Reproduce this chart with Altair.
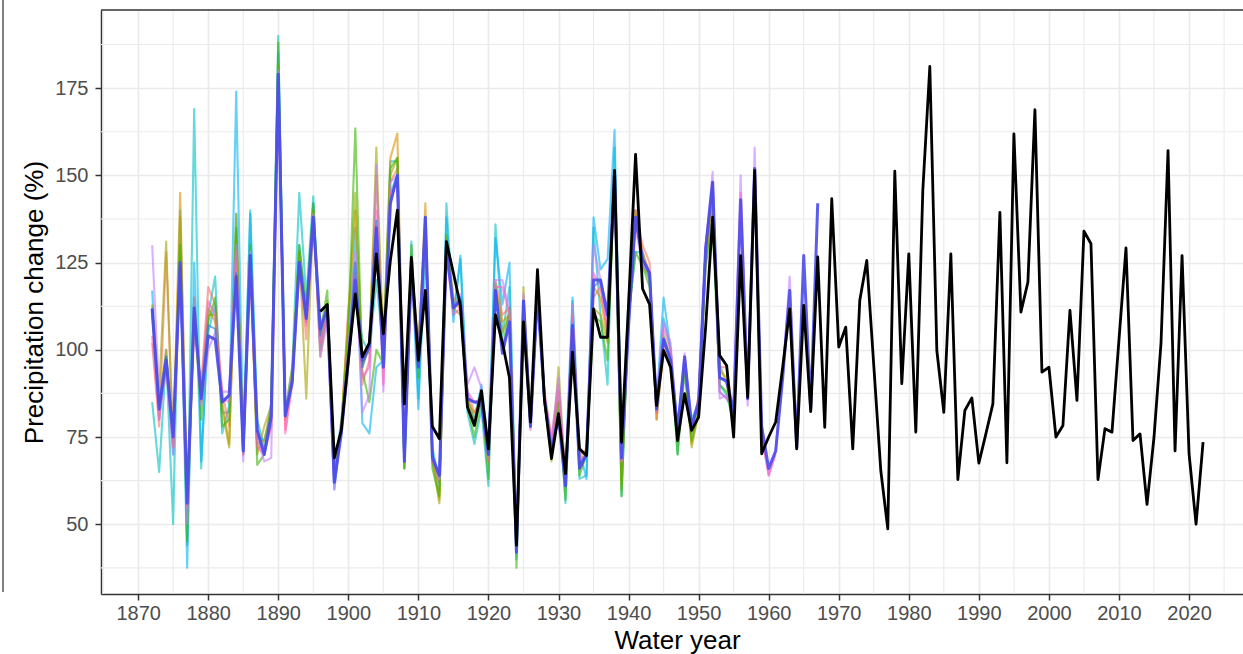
import altair as alt
import pandas as pd

# ---------------- data ----------------
x_major = list(range(1870, 2021, 10))
x_minor = list(range(1865, 2026, 10))
y_major = [50, 75, 100, 125, 150, 175]
y_minor = [37.5, 62.5, 87.5, 112.5, 137.5, 162.5, 187.5]

ens_start = 1872

teal = [85, 65, 98, 50, 140, 44, 169, 66, 110, 121,
        76, 84, 139, 70, 140, 80, 72, 85, 190, 82,
        95, 145, 115, 144, 100, 113, 65, 80, 100, 118,
        103, 99, 120, 100, 154, 154, 66, 131, 86, 137,
        70, 60, 142, 110, 126, 82, 73, 83, 61, 136,
        104, 118, 40, 113, 80, 118, 86, 70, 88, 56,
        114, 63, 64, 135, 110, 90, 158, 58, 110, 128,
        128, 120, 84, 109, 100, 70, 95, 76, 83, 125,
        142, 90, 87, 84]

cyan = [117, 80, 100, 70, 128, 37.5, 125, 68, 105, 113,
        82, 82, 174, 74, 139, 75, 74, 82, 185, 82,
        90, 130, 110, 142, 100, 110, 60, 78, 96, 135,
        79, 76, 95, 97, 145, 150, 70, 127, 83, 128,
        72, 62, 138, 108, 127, 86, 80, 90, 72, 132,
        113, 125, 44, 110, 80, 115, 85, 72, 80, 66,
        115, 71, 63, 138, 123, 126, 163, 72, 115, 140,
        125, 120, 85, 115, 100, 78, 97, 80, 85, 128,
        145, 88, 86, 82]

red = [102, 78, 128, 72, 125, 56, 105, 90, 118, 113,
       88, 78, 125, 72, 125, 72, 72, 78, 180, 77,
       92, 125, 103, 138, 102, 112, 64, 78, 112, 125,
       90, 97, 135, 95, 148, 152, 70, 122, 100, 136,
       68, 62, 130, 113, 112, 88, 82, 85, 68, 120,
       110, 112, 45, 112, 78, 115, 88, 75, 90, 62,
       110, 70, 71, 115, 118, 105, 150, 70, 108, 140,
       130, 125, 80, 102, 97, 76, 95, 76, 87, 128,
       145, 95, 95, 80]

orange = [110, 85, 100, 73, 145, 57, 110, 88, 112, 108,
          85, 73, 133, 73, 127, 73, 74, 83, 180, 80,
          92, 128, 108, 140, 98, 110, 64, 78, 108, 140,
          95, 102, 150, 100, 155, 162, 70, 125, 98, 142,
          70, 57, 132, 115, 112, 85, 82, 86, 68, 118,
          108, 110, 44, 112, 80, 118, 85, 70, 85, 64,
          108, 67, 72, 118, 115, 103, 150, 62, 110, 140,
          128, 122, 80, 100, 95, 76, 98, 73, 83, 125,
          143, 94, 92, 80]

olive = [113, 88, 131, 72, 138, 58, 108, 85, 110, 110,
         83, 72, 139, 72, 125, 70, 78, 84, 182, 82,
         95, 128, 86, 140, 104, 114, 64, 77, 110, 145,
         96, 100, 158, 100, 150, 155, 66, 125, 100, 138,
         68, 56, 131, 112, 110, 86, 80, 85, 72, 118,
         105, 110, 42, 118, 79, 116, 86, 68, 95, 62,
         108, 66, 70, 112, 110, 102, 148, 60, 112, 138,
         124, 121, 82, 100, 96, 74, 96, 72, 82, 126,
         140, 96, 90, 80]

green = [112, 85, 98, 74, 130, 45, 115, 80, 108, 115,
         78, 80, 135, 70, 130, 67, 70, 83, 188, 82,
         92, 130, 112, 142, 105, 117, 64, 78, 105, 163.5,
         94, 85, 100, 96, 152, 155, 66, 130, 92, 135,
         66, 58, 133, 112, 115, 84, 75, 86, 63, 119,
         100, 112, 37.5, 112, 78, 117, 85, 70, 85, 57,
         110, 64, 70, 110, 108, 97, 150, 58, 110, 128,
         124, 118, 83, 104, 98, 70, 94, 74, 82, 124,
         136, 90, 88, 78]

purple = [130, 87, 97, 70, 125, 50, 115, 84, 100, 105,
          88, 88, 130, 68, 128, 75, 68, 69, 180, 82,
          92, 125, 108, 139, 98, 108, 60, 78, 98, 128,
          82, 87, 153, 88, 148, 150, 68, 125, 95, 137,
          70, 63, 128, 112, 116, 90, 95, 89, 72, 120,
          120, 111, 43, 116, 80, 117, 87, 74, 92, 63,
          113, 68, 70, 130, 120, 108, 151, 68, 112, 135,
          124, 122, 85, 108, 102, 76, 99, 78, 86, 130,
          151, 86, 87, 84, 150, 84, 158, 76, 64, 71,
          93, 121, 72]

pink = [104, 80, 95, 72, 123, 55, 110, 88, 114, 110,
        86, 85, 128, 70, 123, 72, 70, 78, 177, 76,
        90, 122, 107, 137, 102, 110, 63, 76, 100, 122,
        92, 95, 140, 90, 145, 148, 70, 122, 96, 136,
        68, 64, 128, 110, 112, 88, 85, 86, 68, 118,
        118, 110, 44, 112, 77, 116, 87, 73, 88, 63,
        110, 68, 70, 122, 118, 106, 150, 68, 110, 137,
        126, 122, 82, 106, 100, 76, 97, 77, 86, 129,
        148, 88, 86, 84, 145, 86, 150, 75, 64, 70]

azure = [112, 84, 98, 76, 124, 56, 110, 87, 107, 106,
         85, 87, 122, 71, 127, 77, 70, 80, 179, 81,
         91, 125, 110, 138, 104, 113, 62, 77, 98, 125,
         95, 101, 137, 96, 142, 150, 68, 125, 96, 138,
         70, 64, 130, 112, 115, 86, 85, 84, 70, 117,
         100, 108, 42, 114, 78, 116, 86, 71, 82, 61,
         107, 67, 70, 118, 120, 110, 151, 69, 107, 138,
         126, 122, 83, 103, 97, 77, 96, 78, 85, 129,
         148, 92, 91, 82]

main_blue = [111.7, 83, 97, 75, 125, 56, 112, 86, 104, 103,
             85, 87, 121, 71, 127, 77, 70, 81, 179, 81,
             91, 125, 109, 138, 106, 112, 62, 76, 97, 120,
             97, 101, 135, 95, 142, 150, 68, 124, 95, 138,
             69, 64, 129, 112, 114, 86, 85, 85, 70, 117,
             99, 108, 42, 114, 78, 116, 86, 71, 81, 61,
             107, 66, 70, 120, 120, 110, 151, 69, 107, 138,
             126, 122, 83, 103, 97, 77, 98, 78, 85, 129,
             148, 92, 91, 82, 143, 86, 152, 78, 66, 71,
             92, 117, 72, 127, 83, 142]

obs_start = 1896
observed = [111, 113, 69, 77, 97, 116, 98, 102, 127.5, 104.6,
            125.6, 140, 84.5, 126.5, 97, 117, 78, 74.5, 131, 122,
            112.7, 83.6, 78.3, 88.3, 71.6, 110, 102, 92, 44, 108,
            79.3, 123, 85.5, 68.8, 81.7, 64.5, 99.3, 71.6, 69.7, 111.7,
            103.6, 103.6, 151.4, 73.5, 113, 156, 117.5, 113, 84, 99.8,
            95, 74, 87.4, 76.9, 80.7, 106.5, 138, 98.4, 95.5, 75,
            127, 86.4, 151.4, 70.2, 75, 79.3, 95, 111.7, 71.6, 112.7,
            82.3, 126.6, 77.8, 143.3, 100.8, 106.5, 71.6, 114.1, 125.6, 95.5,
            65.4, 48.7, 151.2, 90.3, 127.5, 76.4, 145.7, 181.2, 99.8, 82.1,
            127.5, 62.8, 82.6, 86.2, 67.5, 75.9, 84.5, 139.4, 67.6, 161.9,
            110.8, 119.4, 168.8, 93.6, 95, 75, 78.3, 111.3, 85.5, 134,
            130.4, 62.8, 77.4, 76.4, 103, 129.2, 74, 75.9, 55.7, 75,
            102, 157.1, 71, 127, 70.2, 50, 73.5]

members = ["teal", "cyan", "red", "orange", "olive", "green", "purple", "pink", "azure"]
member_values = [teal, cyan, red, orange, olive, green, purple, pink, azure]
member_colors = ["#00BFC4", "#00B0F6", "#F8766D", "#D89000", "#A3A500",
                 "#39B600", "#C77CFF", "#FF61C3", "#1F7FEA"]

# ---------------- tables ----------------
rows = []
for name, vals in zip(members, member_values):
    for i, v in enumerate(vals):
        rows.append({"year": ens_start + i, "value": v, "member": name})
ens_df = pd.DataFrame(rows)
blue_df = pd.DataFrame({"year": [ens_start + i for i in range(len(main_blue))], "value": main_blue})
obs_df = pd.DataFrame({"year": [obs_start + i for i in range(len(observed))], "value": observed})

# ---------------- scales & axes ----------------
W, H = 1142, 584
xs = alt.Scale(domain=[1864.7, 2027.7], nice=False, zero=False)
ys = alt.Scale(domain=[30, 197.4], nice=False, zero=False)

FONT = "Liberation Sans"
x_axis = alt.Axis(values=x_major, format="d", grid=True, gridColor="#EBEBEB", gridWidth=1.7,
                  tickColor="#333333", tickSize=6, tickWidth=1.5,
                  domainColor="#333333", domainWidth=1.5,
                  labelFont=FONT, labelFontSize=20, labelColor="#4D4D4D", labelPadding=3,
                  labelFlush=False, labelOverlap=False,
                  title="Water year", titleFont=FONT, titleFontSize=26, titleFontWeight="normal",
                  titleColor="#000000", titleX=576, titleY=54, titleBaseline="alphabetic")
y_axis = alt.Axis(values=y_major, grid=True, gridColor="#EBEBEB", gridWidth=1.7,
                  tickColor="#333333", tickSize=6, tickWidth=1.5,
                  domainColor="#333333", domainWidth=1.5,
                  labelFont=FONT, labelFontSize=20, labelColor="#4D4D4D", labelPadding=7,
                  labelFlush=False, labelOverlap=False,
                  title="Precipitation change (%)", titleFont=FONT, titleFontSize=26,
                  titleFontWeight="normal", titleColor="#000000", titleAngle=270,
                  titleX=-59, titleY=292, titleBaseline="alphabetic")

X = alt.X("year:Q", scale=xs, axis=x_axis)
Y = alt.Y("value:Q", scale=ys, axis=y_axis)

minor_v = alt.Chart(pd.DataFrame({"year": x_minor})).mark_rule(
    color="#EBEBEB", strokeWidth=1.1).encode(x=X)
minor_h = alt.Chart(pd.DataFrame({"value": y_minor})).mark_rule(
    color="#EBEBEB", strokeWidth=1.1).encode(y=Y)

ens_lines = alt.Chart(ens_df).mark_line(strokeWidth=2.1, opacity=0.6, strokeJoin="round").encode(
    x=X, y=Y,
    color=alt.Color("member:N", scale=alt.Scale(domain=members, range=member_colors), legend=None),
)
blue_line = alt.Chart(blue_df).mark_line(strokeWidth=3.0, color="#4B4BEA", opacity=0.9,
                                         strokeJoin="round").encode(x=X, y=Y)
obs_line = alt.Chart(obs_df).mark_line(strokeWidth=2.8, color="#000000",
                                       strokeJoin="round").encode(x=X, y=Y)

one = pd.DataFrame({"a": [0]})
top_border = alt.Chart(one).mark_rule(color="#333333", strokeWidth=1.5).encode(
    x=alt.value(0), x2=alt.value(W), y=alt.value(0))
ghost_panel = alt.Chart(one).mark_rule(color="#555555", strokeWidth=1.5).encode(
    x=alt.value(-98), y=alt.value(-10), y2=alt.value(582))

chart = alt.layer(minor_v, minor_h, ens_lines, blue_line, obs_line, top_border, ghost_panel).properties(
    width=W, height=H,
    autosize=alt.AutoSizeParams(type="none"),
    padding={"left": 101, "top": 10, "right": 0, "bottom": 60},
    background="#FFFFFF",
).configure_view(stroke="transparent")

chart.save("out.html", embed_options={"renderer": "svg", "actions": False})
